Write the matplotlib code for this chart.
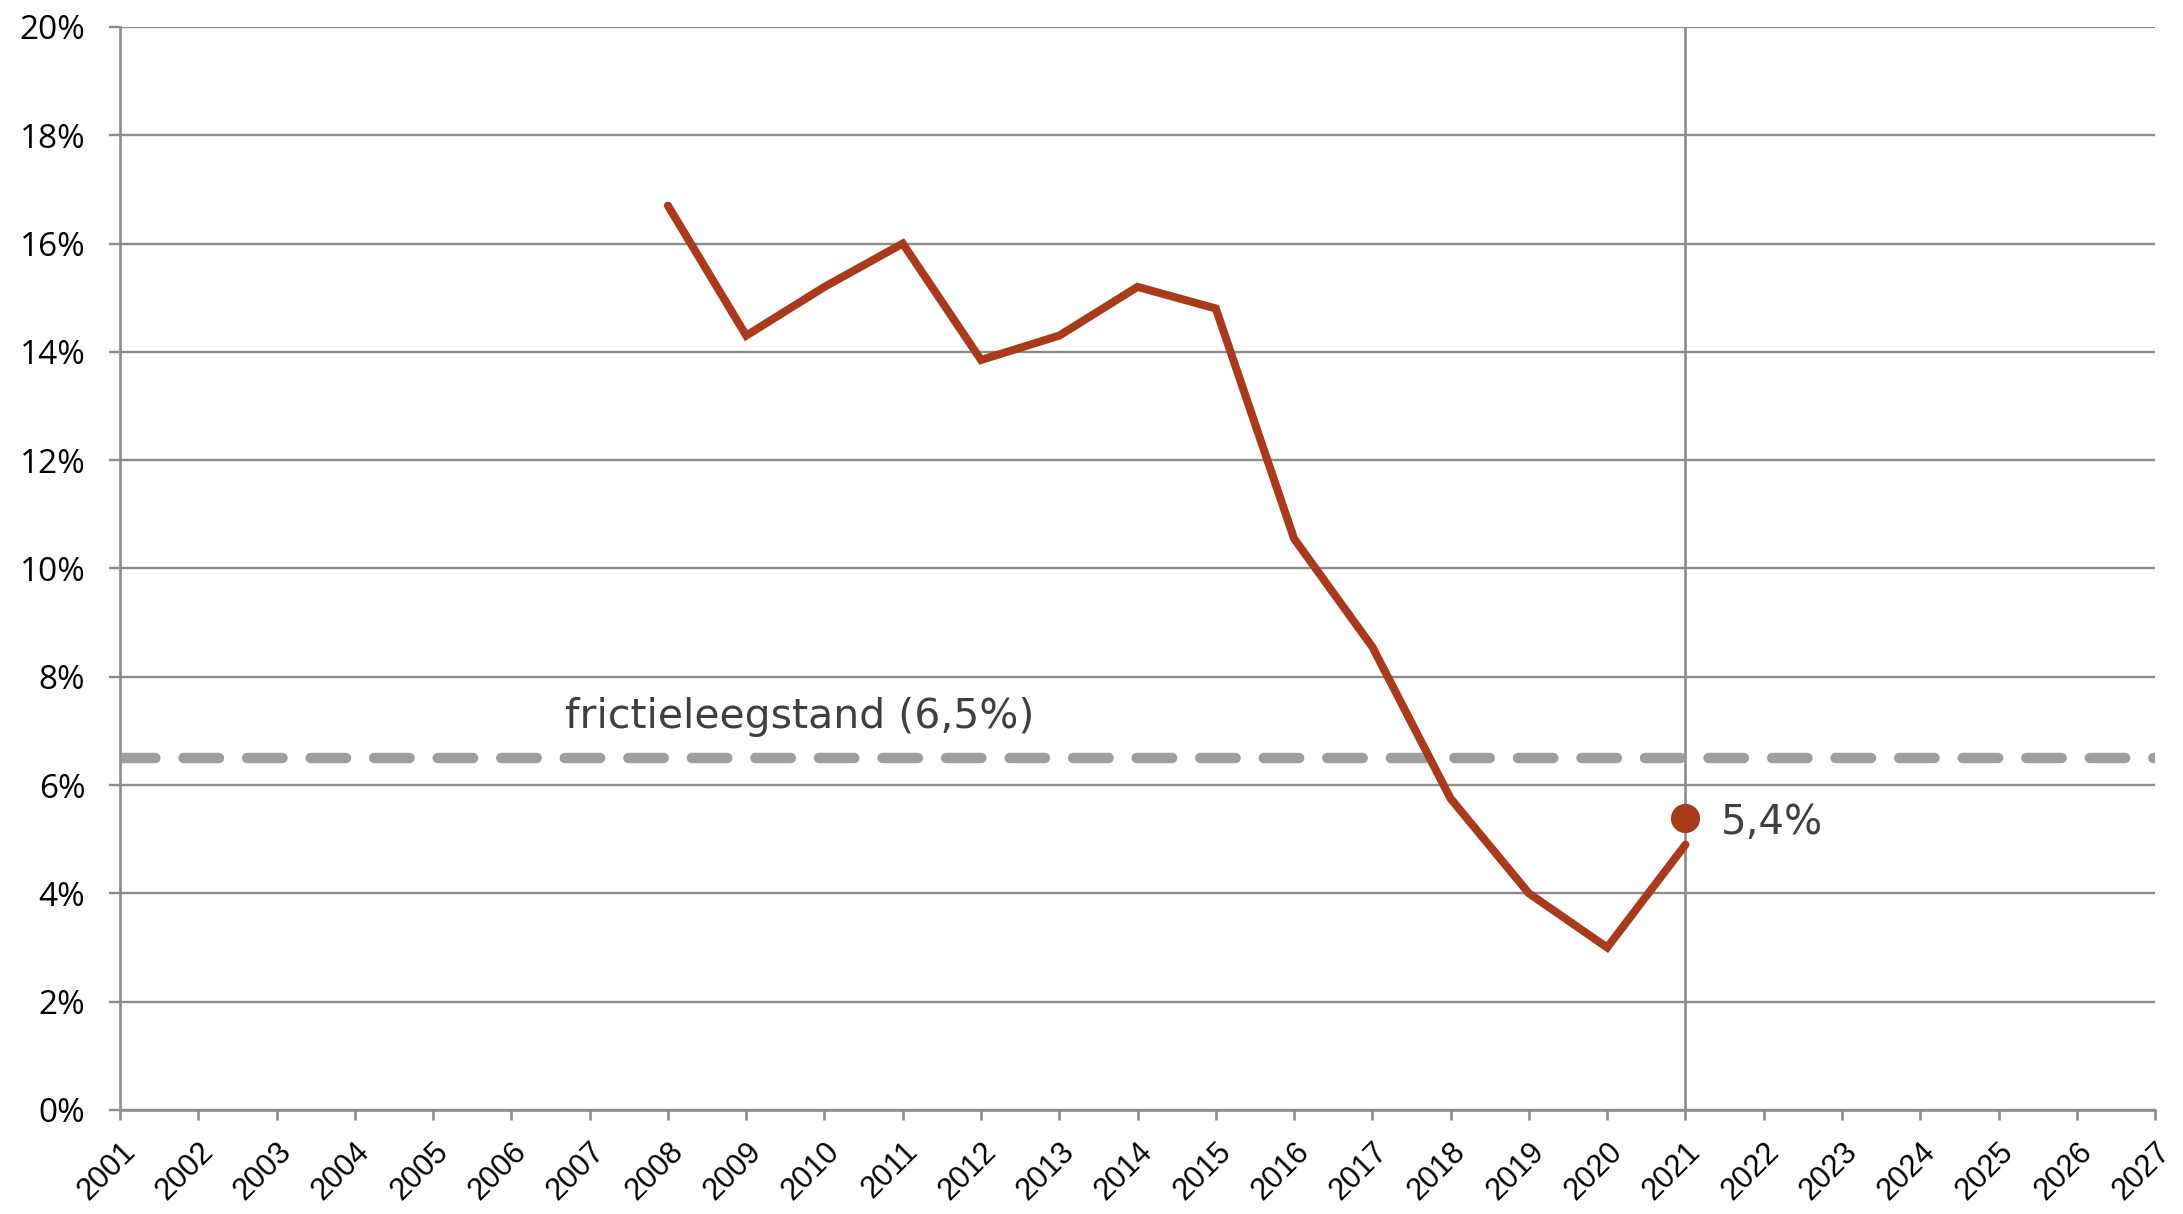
import matplotlib
matplotlib.use("Agg")
import matplotlib.pyplot as plt

# vacancy (leegstand) per year, in %
years = [2008, 2009, 2010, 2011, 2012, 2013, 2014, 2015, 2016, 2017, 2018, 2019, 2020, 2021]
vacancy = [16.7, 14.3, 15.2, 16.0, 13.85, 14.3, 15.2, 14.8, 10.55, 8.55, 5.75, 4.0, 3.0, 4.9]

latest_year = 2021
latest_value = 5.4
friction_level = 6.5

x_ticks = list(range(2001, 2028))
y_ticks = list(range(0, 21, 2))

red = "#a93a1b"
grid_grey = "#8c8c8c"

fig = plt.figure(figsize=(21.83, 12.14), dpi=100)
ax = fig.add_axes([0.055, 0.0857, 0.9322, 0.8921])

ax.set_xlim(2001, 2027)
ax.set_ylim(0, 20)

# grid
for y in y_ticks:
    ax.axhline(y, color=grid_grey, lw=1.7, zorder=1)
ax.axvline(latest_year, color=grid_grey, lw=1.9, zorder=1)

# friction vacancy
ax.axhline(friction_level, color="#9e9e9e", lw=7.5, ls=(0, (3.4, 2.7)),
           dash_capstyle="round", zorder=2)
ax.text(2006.68, 7.25, "frictieleegstand (6,5%)", fontsize=29.5, family="DejaVu Sans",
        color="#3f3f3f", va="center", ha="left")

# vacancy line
ax.plot(years, vacancy, color=red, lw=5.8, solid_capstyle="round",
        solid_joinstyle="miter", zorder=3)
ax.plot([latest_year], [latest_value], "o", color=red, ms=20, zorder=4)
ax.text(2021.45, 5.3, "5,4%", fontsize=29, family="DejaVu Sans", color="#3f3f3f",
        va="center", ha="left")

# axes style
for s in ["top", "right"]:
    ax.spines[s].set_visible(False)
for s in ["left", "bottom"]:
    ax.spines[s].set_color(grid_grey)
    ax.spines[s].set_linewidth(1.9)

ax.set_yticks(y_ticks)
ax.set_yticklabels([f"{v}%" for v in y_ticks], fontsize=24, family="Open Sans")
ax.set_xticks(x_ticks)
ax.set_xticklabels([str(v) for v in x_ticks], fontsize=22, family="Liberation Sans",
                   rotation=45, ha="right", rotation_mode="anchor")
ax.tick_params(axis="y", length=8, width=1.7, color=grid_grey, pad=17)
ax.tick_params(axis="x", length=7, width=1.9, color=grid_grey, pad=12)

fig.savefig("out.png", dpi=100)
